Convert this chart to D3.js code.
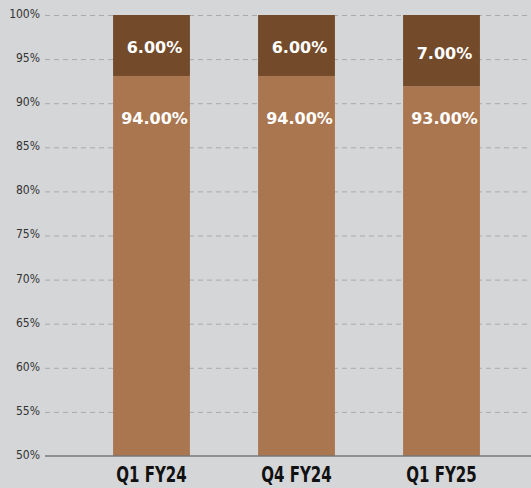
<!DOCTYPE html>
<html>
<head>
<meta charset="utf-8">
<script src="https://cdn.jsdelivr.net/npm/d3@7"></script>
<style>
  html, body { margin: 0; padding: 0; background: #d5d6d8; }
  .tick text { font-family: "DejaVu Sans Condensed", "DejaVu Sans", sans-serif; font-stretch: condensed; font-size: 12px; fill: #333; }
  .grid line { stroke: #aaa; stroke-dasharray: 5 4; }
  .cat { font-family: "DejaVu Sans Condensed", "DejaVu Sans", sans-serif; font-stretch: condensed; font-weight: bold; font-size: 22px; fill: #111; }
  .val { font-family: "DejaVu Sans", sans-serif; font-weight: bold; font-size: 16px; fill: #fff; }
</style>
</head>
<body>
<div class="chart"></div>
<script>
const width = 531;
const height = 488;

// data
const categories = ["Q1 FY24", "Q4 FY24", "Q1 FY25"];
const lowerValues = [94, 94, 93];
const upperValues = [6, 6, 7];
const tickValues = [50, 55, 60, 65, 70, 75, 80, 85, 90, 95, 100];

const colorLower = "#aa7650";
const colorUpper = "#734b2a";

const plotLeft = 45;
const plotTop = 15;
const plotBottom = 456;

const svg = d3.select(".chart")
   .append("svg")
   .attr("width", width)
   .attr("height", height);

// axis scale (50% - 100%)
const y = d3.scaleLinear().domain([50, 100]).range([plotBottom, plotTop]);
// bars in the source are drawn on their own, steeper scale
const yBar = d3.scaleLinear().domain([56.6, 100]).range([plotBottom, plotTop]).clamp(true);

const x = d3.scaleBand()
   .domain(categories)
   .range([79, 514])
   .paddingInner(0.47)
   .paddingOuter(0.235);

// gridlines
svg.append("g")
   .attr("class", "grid")
   .attr("transform", `translate(${plotLeft},0)`)
   .call(d3.axisLeft(y).tickValues(tickValues.slice(1)).tickSize(-(width - plotLeft)).tickFormat(""))
   .call((g) => g.select(".domain").remove());

// tick labels
svg.append("g")
   .attr("transform", `translate(${plotLeft},0)`)
   .call(d3.axisLeft(y).tickValues(tickValues).tickSize(0).tickPadding(5).tickFormat((d) => d + "%"))
   .call((g) => g.select(".domain").remove())
   .call((g) => g.selectAll("text").attr("dy", "0.2em"));

const rows = categories.map((c, i) => ({ cat: c, lower: lowerValues[i], upper: upperValues[i] }));

const bars = svg.append("g")
   .selectAll("g")
   .data(rows)
   .enter()
   .append("g");

bars.append("rect")
   .attr("x", (d) => x(d.cat))
   .attr("width", x.bandwidth())
   .attr("y", (d) => yBar(d.lower))
   .attr("height", (d) => yBar(0) - yBar(d.lower))
   .attr("fill", colorLower);

bars.append("rect")
   .attr("x", (d) => x(d.cat))
   .attr("width", x.bandwidth())
   .attr("y", (d) => yBar(d.lower + d.upper))
   .attr("height", (d) => yBar(d.lower) - yBar(d.lower + d.upper))
   .attr("fill", colorUpper);

bars.append("text")
   .attr("class", "val")
   .attr("text-anchor", "middle")
   .attr("x", (d) => x(d.cat) + x.bandwidth() / 2 + 3)
   .attr("y", (d) => (yBar(d.lower) + yBar(d.lower + d.upper)) / 2 + 8)
   .text((d) => d.upper.toFixed(2) + "%");

bars.append("text")
   .attr("class", "val")
   .attr("text-anchor", "middle")
   .attr("x", (d) => x(d.cat) + x.bandwidth() / 2 + 3)
   .attr("y", (d) => yBar(100) + 109)
   .text((d) => d.lower.toFixed(2) + "%");

// baseline
svg.append("line")
   .attr("x1", plotLeft)
   .attr("x2", width)
   .attr("y1", y(50))
   .attr("y2", y(50))
   .attr("stroke", "#777")
   .attr("stroke-width", 1.5);

// category labels (squeezed to mimic the condensed face)
svg.append("g")
   .selectAll("text")
   .data(categories)
   .enter()
   .append("text")
   .attr("class", "cat")
   .attr("text-anchor", "middle")
   .attr("transform", (d) => `translate(${x(d) + x.bandwidth() / 2},482) scale(0.76,1)`)
   .text((d) => d);
</script>
</body>
</html>
